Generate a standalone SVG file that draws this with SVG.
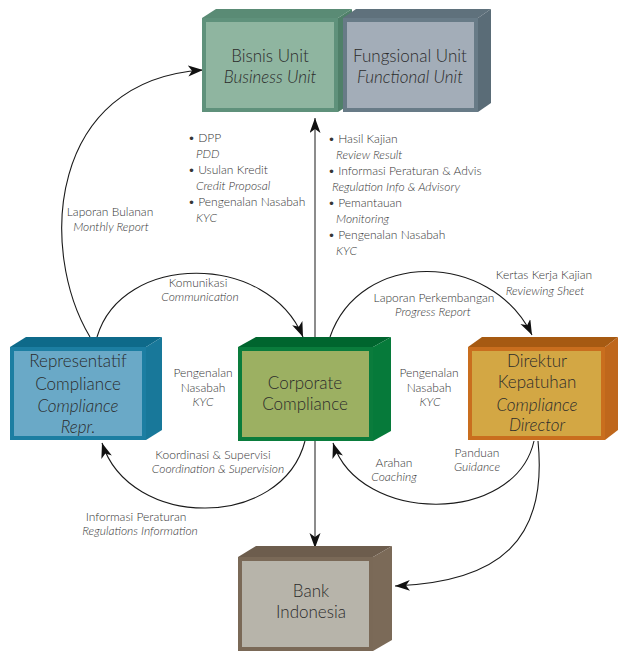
<svg xmlns="http://www.w3.org/2000/svg" width="618" height="651" viewBox="0 0 618 651">
  <style>
    text { font-family: Lato, "Open Sans", "Noto Sans", sans-serif; }
    .bx { font-size: 17px; fill: #2b2b2b; text-anchor: middle; font-weight: 300; }
    .lb { font-size: 12px; fill: #363636; font-weight: 300; }
    .c { text-anchor: middle; }
    .it { font-style: italic; }
    .wire { fill: none; stroke: #1a1a1a; stroke-width: 1.1; }
    .axis { fill: none; stroke: #8c8c8c; stroke-width: 2; }
  </style>
  <defs>
    <marker id="arrow" markerUnits="userSpaceOnUse" markerWidth="16" markerHeight="12" refX="15" refY="5.5" orient="auto">
      <path d="M0,0 L15,5.5 L0,11 L4,5.5 z" fill="#111"/>
    </marker>
  </defs>

  <!-- connectors -->
  <g id="connectors">
    <path class="axis" d="M315,347 L315,118" marker-end="url(#arrow)"/>
    <path class="axis" d="M315,441 L315,548" marker-end="url(#arrow)"/>
    <path class="wire" d="M90,337 C38,250 48,80 203,70" marker-end="url(#arrow)"/>
    <path class="wire" d="M97,337 C122,252 268,252 303,337" marker-end="url(#arrow)"/>
    <path class="wire" d="M330,337 C360,250 490,250 532,335" marker-end="url(#arrow)"/>
    <path class="wire" d="M305,441 C282,530 130,530 102,443" marker-end="url(#arrow)"/>
    <path class="wire" d="M534,441 C515,525 360,525 333,443" marker-end="url(#arrow)"/>
    <path class="wire" d="M538,441 C548,540 500,582 395,586" marker-end="url(#arrow)"/>
  </g>

  <!-- Bisnis Unit -->
  <g id="bisnis-unit">
    <polygon points="202,18 216,9 352,9 338,18" fill="#5a8b75"/>
    <polygon points="338,18 352,9 352,103 338,112" fill="#4f8069"/>
    <rect x="202" y="18" width="136" height="94" fill="#5f917b"/>
    <rect x="206" y="22" width="128" height="86" fill="#8fb5a0"/>
    <text class="bx" x="270" y="62">Bisnis Unit</text>
    <text class="bx it" x="270" y="83">Business Unit</text>
  </g>

  <!-- Fungsional Unit -->
  <g id="fungsional-unit">
    <polygon points="343,18 356,9 491,9 478,18" fill="#5f717c"/>
    <polygon points="478,18 491,9 491,103 478,112" fill="#5a6c77"/>
    <rect x="343" y="18" width="135" height="94" fill="#687b87"/>
    <rect x="347" y="22" width="127" height="86" fill="#a3adb8"/>
    <text class="bx" x="410" y="62">Fungsional Unit</text>
    <text class="bx it" x="410" y="83">Functional Unit</text>
  </g>

  <!-- Representatif Compliance -->
  <g id="representatif-compliance">
    <polygon points="10,347 26,337 162,337 146,347" fill="#0e6a8a"/>
    <polygon points="146,347 162,337 162,430 146,440" fill="#18789a"/>
    <rect x="10" y="347" width="136" height="93" fill="#1c7ea2"/>
    <rect x="14" y="351" width="128" height="85" fill="#6aa9c7"/>
    <text class="bx" x="78" y="367">Representatif</text>
    <text class="bx" x="78" y="390">Compliance</text>
    <text class="bx it" x="78" y="412">Compliance</text>
    <text class="bx it" x="78" y="433">Repr.</text>
  </g>

  <!-- Corporate Compliance -->
  <g id="corporate-compliance">
    <polygon points="238,347 256,337 391,337 373,347" fill="#00652e"/>
    <polygon points="373,347 391,337 391,431 373,441" fill="#067a3a"/>
    <rect x="238" y="347" width="135" height="94" fill="#0a7c3c"/>
    <rect x="242" y="351" width="127" height="86" fill="#9cb062"/>
    <text class="bx" x="305" y="389">Corporate</text>
    <text class="bx" x="305" y="410">Compliance</text>
  </g>

  <!-- Direktur Kepatuhan -->
  <g id="direktur-kepatuhan">
    <polygon points="468,347 482,337 618,337 605,347" fill="#a65a12"/>
    <polygon points="605,347 618,337 618,430 605,440" fill="#bf671c"/>
    <rect x="468" y="347" width="137" height="93" fill="#c96e1e"/>
    <rect x="472" y="351" width="129" height="85" fill="#d3a744"/>
    <text class="bx" x="537" y="367">Direktur</text>
    <text class="bx" x="537" y="388">Kepatuhan</text>
    <text class="bx it" x="537" y="411">Compliance</text>
    <text class="bx it" x="537" y="431">Director</text>
  </g>

  <!-- Bank Indonesia -->
  <g id="bank-indonesia">
    <polygon points="238,557 256,546 392,546 373,557" fill="#6d5d4d"/>
    <polygon points="373,557 392,546 392,640 373,651" fill="#7b6a58"/>
    <rect x="238" y="557" width="135" height="94" fill="#7a6957"/>
    <rect x="242" y="561" width="127" height="86" fill="#b7b4aa"/>
    <text class="bx" x="311" y="597">Bank</text>
    <text class="bx" x="311" y="618">Indonesia</text>
  </g>

  <!-- connector labels -->
  <g id="labels">
    <text class="lb" x="188" y="142">• DPP</text>
    <text class="lb it" x="196" y="158">PDD</text>
    <text class="lb" x="188" y="174">• Usulan Kredit</text>
    <text class="lb it" x="196" y="190">Credit Proposal</text>
    <text class="lb" x="188" y="206">• Pengenalan Nasabah</text>
    <text class="lb it" x="196" y="222">KYC</text>

    <text class="lb" x="328" y="143">• Hasil Kajian</text>
    <text class="lb it" x="336" y="159">Review Result</text>
    <text class="lb" x="328" y="175">• Informasi Peraturan &amp; Advis</text>
    <text class="lb it" x="332" y="191">Regulation Info &amp; Advisory</text>
    <text class="lb" x="328" y="207">• Pemantauan</text>
    <text class="lb it" x="336" y="223">Monitoring</text>
    <text class="lb" x="328" y="239">• Pengenalan Nasabah</text>
    <text class="lb it" x="336" y="255">KYC</text>

    <text class="lb c" x="110" y="216">Laporan Bulanan</text>
    <text class="lb c it" x="111" y="231">Monthly Report</text>

    <text class="lb c" x="198" y="287">Komunikasi</text>
    <text class="lb c it" x="200" y="301">Communication</text>

    <text class="lb c" x="434" y="302">Laporan Perkembangan</text>
    <text class="lb c it" x="433" y="316">Progress Report</text>

    <text class="lb c" x="544" y="279">Kertas Kerja Kajian</text>
    <text class="lb c it" x="545" y="295">Reviewing Sheet</text>

    <text class="lb c" x="203" y="377">Pengenalan</text>
    <text class="lb c" x="203" y="392">Nasabah</text>
    <text class="lb c it" x="203" y="406">KYC</text>

    <text class="lb c" x="429" y="377">Pengenalan</text>
    <text class="lb c" x="429" y="392">Nasabah</text>
    <text class="lb c it" x="430" y="406">KYC</text>

    <text class="lb c" x="213" y="459">Koordinasi &amp; Supervisi</text>
    <text class="lb c it" x="218" y="473">Coordination &amp; Supervision</text>

    <text class="lb c" x="136" y="521">Informasi Peraturan</text>
    <text class="lb c it" x="140" y="535">Regulations Information</text>

    <text class="lb c" x="394" y="467">Arahan</text>
    <text class="lb c it" x="394" y="481">Coaching</text>

    <text class="lb c" x="477" y="457">Panduan</text>
    <text class="lb c it" x="477" y="471">Guidance</text>
  </g>
</svg>
